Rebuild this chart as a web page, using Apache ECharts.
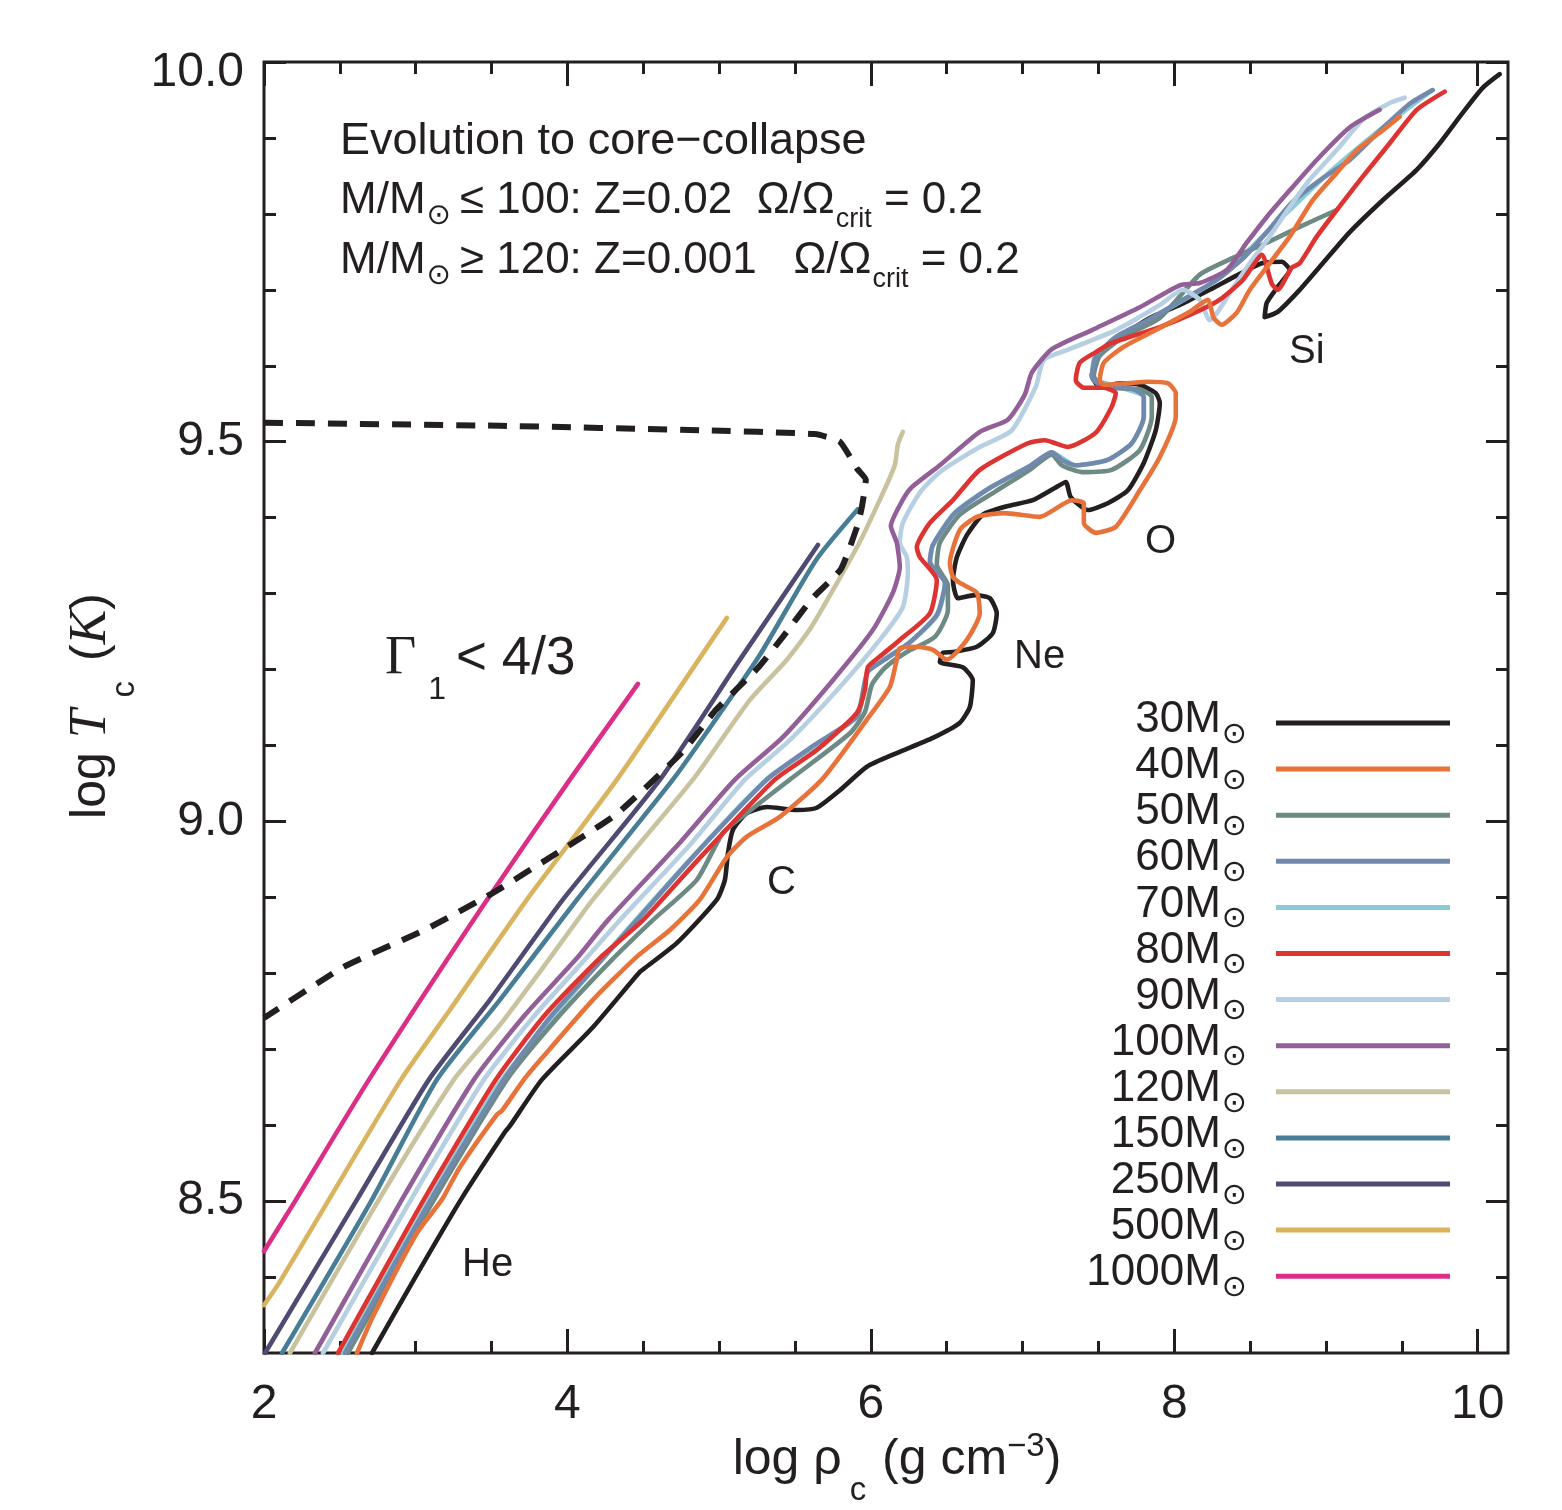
<!DOCTYPE html>
<html><head><meta charset="utf-8">
<script src="https://cdn.jsdelivr.net/npm/echarts@6/dist/echarts.min.js"></script>
<style>html,body{margin:0;padding:0;background:#fff}#c{width:1562px;height:1510px}</style>
</head><body><div id="c"></div>
<script>
// ---------- tick definitions ----------
const xMajorTicks = [2, 4, 6, 8, 10];
const xMinorTicks = [2.5, 3, 3.5, 4.5, 5, 5.5, 6.5, 7, 7.5, 8.5, 9, 9.5];
const yMajorTicks = [8.5, 9.0, 9.5, 10.0];
const yMinorTicks = [8.4, 8.6, 8.7, 8.8, 8.9, 9.1, 9.2, 9.3, 9.4, 9.6, 9.7, 9.8, 9.9];

// ---------- legend / series names ----------
const massNames = ['30M', '40M', '50M', '60M', '70M', '80M', '90M', '100M', '120M', '150M', '250M', '500M', '1000M'];

// ---------- tracks: [log rho_c, log T_c] ----------
const m30 = [[2.712,8.300],[2.995,8.399],[3.298,8.502],[3.588,8.591],[3.621,8.599],[3.832,8.660],[4.168,8.729],[4.478,8.802],[4.511,8.807],[4.722,8.840],[4.985,8.897],[5.038,8.923],[5.058,8.958],[5.091,8.989],[5.183,9.011],[5.315,9.019],[5.512,9.015],[5.644,9.018],[5.796,9.041],[5.974,9.072],[6.171,9.090],[6.409,9.110],[6.587,9.130],[6.653,9.151],[6.672,9.186],[6.606,9.203],[6.455,9.210],[6.475,9.222],[6.541,9.223],[6.699,9.230],[6.804,9.248],[6.830,9.274],[6.784,9.294],[6.685,9.298],[6.573,9.294],[6.541,9.318],[6.567,9.348],[6.633,9.377],[6.738,9.404],[6.896,9.415],[7.068,9.423],[7.213,9.439],[7.285,9.447],[7.318,9.427],[7.430,9.410],[7.562,9.419],[7.694,9.436],[7.799,9.472],[7.878,9.515],[7.905,9.551],[7.878,9.564],[7.773,9.575],[7.641,9.577],[7.509,9.572],[7.457,9.588],[7.509,9.614],[7.674,9.641],[7.839,9.663],[8.036,9.680],[8.234,9.700],[8.432,9.721],[8.577,9.735],[8.709,9.737],[8.761,9.726],[8.682,9.704],[8.610,9.683],[8.596,9.664],[8.682,9.671],[8.827,9.700],[8.979,9.735],[9.157,9.776],[9.374,9.818],[9.598,9.858],[9.750,9.893],[9.901,9.933],[10.033,9.966],[10.145,9.984]];
const m40 = [[2.613,8.300],[2.718,8.348],[3.008,8.458],[3.173,8.502],[3.292,8.545],[3.535,8.614],[3.568,8.619],[3.713,8.660],[3.839,8.690],[4.168,8.765],[4.458,8.822],[4.676,8.857],[4.873,8.897],[5.051,8.953],[5.183,8.980],[5.400,9.006],[5.677,9.055],[5.974,9.134],[6.125,9.177],[6.171,9.213],[6.191,9.228],[6.303,9.230],[6.409,9.226],[6.501,9.213],[6.633,9.239],[6.718,9.274],[6.699,9.301],[6.587,9.314],[6.541,9.322],[6.521,9.340],[6.587,9.384],[6.699,9.401],[6.877,9.406],[7.114,9.401],[7.325,9.423],[7.404,9.419],[7.404,9.393],[7.483,9.380],[7.615,9.388],[7.773,9.436],[7.905,9.480],[8.010,9.533],[8.010,9.564],[7.957,9.577],[7.825,9.579],[7.694,9.577],[7.536,9.575],[7.509,9.581],[7.536,9.604],[7.667,9.625],[7.878,9.647],[8.102,9.671],[8.221,9.687],[8.260,9.663],[8.313,9.654],[8.412,9.670],[8.498,9.700],[8.610,9.730],[8.761,9.770],[8.913,9.818],[9.071,9.854],[9.203,9.884],[9.374,9.910],[9.486,9.928]];
const m50 = [[2.554,8.300],[3.121,8.502],[3.601,8.660],[3.924,8.739],[4.280,8.815],[4.563,8.870],[4.853,8.923],[5.025,8.985],[5.183,9.011],[5.466,9.055],[5.862,9.116],[5.961,9.144],[6.007,9.180],[6.092,9.202],[6.237,9.223],[6.422,9.243],[6.508,9.278],[6.508,9.311],[6.435,9.338],[6.455,9.367],[6.587,9.404],[6.817,9.434],[7.048,9.463],[7.193,9.483],[7.259,9.469],[7.391,9.460],[7.588,9.463],[7.773,9.489],[7.852,9.533],[7.852,9.559],[7.773,9.569],[7.536,9.572],[7.470,9.587],[7.509,9.613],[7.674,9.639],[7.905,9.663],[8.168,9.720],[8.386,9.742],[8.610,9.762],[8.827,9.783],[9.071,9.805]];
const m60 = [[2.534,8.300],[3.101,8.502],[3.582,8.660],[3.898,8.745],[4.214,8.815],[4.458,8.870],[4.840,8.956],[5.315,9.055],[5.631,9.101],[5.908,9.138],[5.947,9.170],[5.980,9.197],[6.092,9.213],[6.257,9.236],[6.435,9.272],[6.488,9.314],[6.389,9.342],[6.409,9.364],[6.554,9.406],[6.784,9.439],[7.048,9.468],[7.193,9.486],[7.259,9.476],[7.351,9.469],[7.562,9.476],[7.720,9.498],[7.799,9.533],[7.799,9.559],[7.746,9.568],[7.641,9.572],[7.536,9.572],[7.457,9.585],[7.483,9.612],[7.615,9.638],[7.825,9.660],[8.056,9.687],[8.280,9.713],[8.452,9.741],[8.610,9.776],[8.781,9.816],[8.979,9.847],[9.157,9.871],[9.374,9.913],[9.552,9.945],[9.704,9.963]];
const m70 = [[2.52,8.300],[3.09,8.502],[3.57,8.660],[4.45,8.870],[5.31,9.055],[5.91,9.138],[5.98,9.197],[6.26,9.236],[6.44,9.272],[6.49,9.314],[6.39,9.342],[6.41,9.364],[6.55,9.406],[6.78,9.439],[7.05,9.468],[7.19,9.486],[7.35,9.469],[7.56,9.476],[7.72,9.498],[7.80,9.533],[7.80,9.559],[7.64,9.572],[7.46,9.585],[7.48,9.612],[7.83,9.660],[8.28,9.713],[8.61,9.776],[8.98,9.847],[9.37,9.913],[9.70,9.963]];
const m80 = [[2.488,8.300],[2.764,8.399],[3.054,8.502],[3.529,8.660],[3.852,8.745],[4.214,8.820],[4.498,8.870],[4.873,8.952],[5.367,9.055],[5.644,9.094],[5.908,9.143],[5.961,9.173],[5.980,9.203],[6.059,9.217],[6.191,9.239],[6.389,9.274],[6.435,9.318],[6.323,9.348],[6.303,9.361],[6.389,9.393],[6.541,9.423],[6.718,9.463],[7.035,9.498],[7.147,9.502],[7.298,9.493],[7.483,9.512],[7.588,9.546],[7.615,9.564],[7.536,9.571],[7.404,9.571],[7.351,9.581],[7.377,9.604],[7.483,9.618],[7.588,9.630],[7.905,9.651],[8.168,9.673],[8.300,9.687],[8.452,9.713],[8.577,9.746],[8.643,9.708],[8.682,9.700],[8.774,9.729],[8.827,9.735],[8.939,9.770],[9.071,9.805],[9.242,9.849],[9.420,9.893],[9.598,9.937],[9.783,9.961]];
const m90 = [[2.389,8.300],[2.969,8.502],[3.450,8.660],[3.786,8.745],[4.115,8.818],[4.346,8.870],[4.807,8.969],[5.170,9.055],[5.466,9.107],[5.796,9.177],[6.059,9.239],[6.211,9.282],[6.244,9.327],[6.237,9.348],[6.191,9.367],[6.211,9.393],[6.323,9.433],[6.455,9.460],[6.718,9.493],[6.929,9.515],[7.087,9.572],[7.140,9.608],[7.298,9.621],[7.615,9.647],[7.905,9.680],[8.056,9.700],[8.168,9.687],[8.234,9.660],[8.287,9.671],[8.399,9.706],[8.498,9.735],[8.629,9.770],[8.761,9.809],[8.893,9.845],[9.071,9.884],[9.242,9.924],[9.420,9.946],[9.519,9.953]];
const m100 = [[2.336,8.300],[2.909,8.502],[3.384,8.660],[3.720,8.745],[4.063,8.820],[4.267,8.870],[4.741,8.972],[5.104,9.055],[5.420,9.111],[5.750,9.186],[6.013,9.252],[6.145,9.301],[6.191,9.335],[6.171,9.367],[6.132,9.389],[6.198,9.419],[6.264,9.439],[6.455,9.469],[6.718,9.513],[6.903,9.529],[7.015,9.562],[7.061,9.591],[7.193,9.622],[7.457,9.647],[7.773,9.677],[8.036,9.706],[8.168,9.709],[8.346,9.726],[8.478,9.762],[8.610,9.796],[8.761,9.831],[8.939,9.871],[9.157,9.914],[9.354,9.937]];
const m120 = [[2.171,8.300],[2.758,8.502],[3.252,8.660],[3.555,8.732],[3.852,8.811],[4.168,8.897],[4.827,9.055],[5.203,9.160],[5.447,9.213],[5.611,9.257],[5.914,9.363],[6.072,9.429],[6.158,9.469],[6.178,9.496],[6.211,9.513]];
const m150 = [[2.119,8.300],[2.712,8.502],[3.140,8.660],[3.555,8.765],[4.063,8.897],[4.695,9.055],[4.952,9.127],[5.268,9.219],[5.638,9.344],[5.914,9.411]];
const m250 = [[2.007,8.300],[2.613,8.502],[3.087,8.660],[3.489,8.765],[3.970,8.897],[4.610,9.055],[5.137,9.213],[5.651,9.364]];
const m500 = [[2.0,8.363],[2.105,8.394],[2.428,8.502],[2.903,8.660],[3.226,8.752],[3.733,8.897],[4.326,9.055],[5.051,9.268]];
const m1000 = [[2.0,8.434],[2.211,8.502],[2.692,8.660],[3.437,8.887],[4.016,9.055],[4.465,9.181]];
// Gamma_1 < 4/3 instability boundary (dashed)
const gammaBoundary = [[2.0,9.525],[3.555,9.521],[4.873,9.515],[5.631,9.510],[5.796,9.500],[5.911,9.464],[5.967,9.450],[5.941,9.414],[5.911,9.389],[5.802,9.332],[5.611,9.293],[5.420,9.243],[5.255,9.202],[4.979,9.147],[4.761,9.092],[4.326,9.010],[3.944,8.960],[3.502,8.905],[3.068,8.858],[2.521,8.808],[2.0,8.741]];

const INK = '#231F20';
const FONT = '"Liberation Sans", Arial, Helvetica, sans-serif';
const SYMF = '"DejaVu Sans", "Liberation Sans", sans-serif';
const SERIF = '"Liberation Serif", "Times New Roman", serif';

const colors = {
  '30M':'#231F20','40M':'#E8733A','50M':'#6D8A84','60M':'#7089AC','70M':'#8ACBD5','80M':'#DE3431',
  '90M':'#B7CFE3','100M':'#925F98','120M':'#C9C29E','150M':'#487E95','250M':'#4E4A71','500M':'#DAB35F','1000M':'#DD2E87'
};
const trackData = {'30M':m30,'40M':m40,'50M':m50,'60M':m60,'70M':m70,'80M':m80,'90M':m90,'100M':m100,'120M':m120,'150M':m150,'250M':m250,'500M':m500,'1000M':m1000};
const drawOrder = ['30M','70M','50M','60M','90M','100M','80M','40M','120M','150M','250M','500M','1000M'];

const series = drawOrder.map(n => ({
  type:'line', name:n, data:trackData[n], showSymbol:false, symbol:'none', silent:true, smooth:0.2,
  lineStyle:{color:colors[n], width:4.6, cap:'round', join:'round'}, itemStyle:{color:colors[n]}
}));
series.push({type:'line', name:'gamma', data:gammaBoundary, showSymbol:false, symbol:'none', silent:true, smooth:0.15,
  lineStyle:{color:INK, width:6, type:[19,13]}});

function axisCommon(extra){
  return Object.assign({type:'value', axisLine:{show:false}, splitLine:{show:false}}, extra);
}
const tickStyle = {color:INK, width:3};

const option = {
  animation:false,
  backgroundColor:'#fff',
  grid:{left:264, top:62, right:54, bottom:157, show:true, borderColor:INK, borderWidth:3, backgroundColor:'transparent'},
  xAxis:[
    axisCommon({min:2, max:10.2, position:'bottom',
      axisTick:{show:true, inside:true, length:24, customValues:xMajorTicks, lineStyle:tickStyle},
      axisLabel:{customValues:xMajorTicks, margin:28, fontSize:48, fontFamily:FONT, color:INK}}),
    axisCommon({min:2, max:10.2, position:'bottom',
      axisTick:{show:true, inside:true, length:12, customValues:xMinorTicks, lineStyle:tickStyle},
      axisLabel:{show:false}}),
    axisCommon({min:2, max:10.2, position:'top',
      axisTick:{show:true, inside:true, length:24, customValues:xMajorTicks, lineStyle:tickStyle},
      axisLabel:{show:false}}),
    axisCommon({min:2, max:10.2, position:'top',
      axisTick:{show:true, inside:true, length:12, customValues:xMinorTicks, lineStyle:tickStyle},
      axisLabel:{show:false}})
  ],
  yAxis:[
    axisCommon({min:8.3, max:10.0, position:'left',
      axisTick:{show:true, inside:true, length:22, customValues:yMajorTicks, lineStyle:tickStyle},
      axisLabel:{customValues:yMajorTicks, margin:20, fontSize:48, fontFamily:FONT, color:INK,
        formatter: v => Math.abs(v-10) < 1e-6 ? '{top|10.0}' : v.toFixed(1),
        rich:{top:{fontSize:48, fontFamily:FONT, color:INK, padding:[22,0,0,0]}}}}),
    axisCommon({min:8.3, max:10.0, position:'left',
      axisTick:{show:true, inside:true, length:12, customValues:yMinorTicks, lineStyle:tickStyle},
      axisLabel:{show:false}}),
    axisCommon({min:8.3, max:10.0, position:'right',
      axisTick:{show:true, inside:true, length:22, customValues:yMajorTicks, lineStyle:tickStyle},
      axisLabel:{show:false}}),
    axisCommon({min:8.3, max:10.0, position:'right',
      axisTick:{show:true, inside:true, length:12, customValues:yMinorTicks, lineStyle:tickStyle},
      axisLabel:{show:false}})
  ],
  legend:{
    data:massNames, orient:'vertical', right:112, top:698, align:'right', padding:0,
    icon:'rect', itemWidth:174, itemHeight:5, itemGap:-5.9, selectedMode:false,
    formatter: n => '{m|' + n + '}{s|⊙}',
    textStyle:{color:INK, fontSize:44, fontFamily:FONT,
      rich:{
        m:{fontSize:44, fontFamily:FONT, color:INK, verticalAlign:'middle', padding:[0,0,6,0]},
        s:{fontSize:30, fontFamily:SYMF, color:INK, verticalAlign:'middle', padding:[24,24,0,1]}
      }}
  },
  series: series,
  graphic:[]
};

function txt(x, y, text, size, extra){
  return Object.assign({type:'text', x:x, y:y, silent:true, z:100,
    style:{text:text, fontSize:size, fontFamily:FONT, fill:INK, align:'left', verticalAlign:'middle'}}, extra||{});
}
const annRich = {
  t:{fontSize:44, fontFamily:FONT, fill:INK, lineHeight:50, verticalAlign:'middle'},
  sun:{fontSize:29, fontFamily:SYMF, fill:INK, lineHeight:50, verticalAlign:'middle', padding:[30,9,0,1]},
  sub:{fontSize:27, fontFamily:FONT, fill:INK, lineHeight:50, verticalAlign:'middle', padding:[38,0,0,1]}
};
option.graphic = [
  txt(340, 142, 'Evolution to core\u2212collapse', 45),
  {type:'text', x:340, y:201, silent:true, z:100, style:{text:'{t|M/M}{sun|⊙}{t|≤ 100: Z=0.02  Ω/Ω}{sub|crit}{t| = 0.2}', rich:annRich, align:'left', verticalAlign:'middle', fill:INK}},
  {type:'text', x:340, y:261, silent:true, z:100, style:{text:'{t|M/M}{sun|⊙}{t|≥ 120: Z=0.001   Ω/Ω}{sub|crit}{t| = 0.2}', rich:annRich, align:'left', verticalAlign:'middle', fill:INK}},
  {type:'text', x:385, y:659, silent:true, z:100, style:{text:'{g|Γ}{s|1}{t|< 4/3}', align:'left', verticalAlign:'middle', fill:INK,
    rich:{g:{fontSize:54, fontFamily:SERIF, fill:INK, lineHeight:56, verticalAlign:'middle'},
          s:{fontSize:32, fontFamily:FONT, fill:INK, lineHeight:56, verticalAlign:'middle', padding:[62,10,0,12]},
          t:{fontSize:53, fontFamily:FONT, fill:INK, lineHeight:56, verticalAlign:'middle'}}}},
  txt(462, 1265, 'He', 40),
  txt(767, 883, 'C', 40),
  txt(1014, 657, 'Ne', 40),
  txt(1145, 542, 'O', 40),
  txt(1289, 352, 'Si', 40),
  // x-axis title
  {type:'text', x:897, y:1460, silent:true, z:100, style:{text:'{a|log ρ}{b|c}{a| (g cm}{p|\u22123}{a|)}', align:'center', verticalAlign:'middle', fill:INK,
    rich:{a:{fontSize:50, fontFamily:FONT, fill:INK, lineHeight:56, verticalAlign:'middle'},
          b:{fontSize:33, fontFamily:FONT, fill:INK, lineHeight:56, verticalAlign:'middle', padding:[62,2,0,8]},
          p:{fontSize:33, fontFamily:FONT, fill:INK, lineHeight:56, verticalAlign:'middle', padding:[0,0,26,0]}}}},
  // y-axis title
  {type:'text', x:91, y:706, rotation:Math.PI/2, silent:true, z:100, style:{text:'{a|log }{i|T}{b|c}{a| (}{i|K}{a|)}', align:'center', verticalAlign:'middle', fill:INK,
    rich:{a:{fontSize:50, fontFamily:FONT, fill:INK, lineHeight:56, verticalAlign:'middle'},
          i:{fontSize:52, fontFamily:SERIF, fontStyle:'italic', fill:INK, lineHeight:56, verticalAlign:'middle'},
          b:{fontSize:33, fontFamily:FONT, fill:INK, lineHeight:56, verticalAlign:'middle', padding:[68,6,0,12]}}}}
];

const chart = echarts.init(document.getElementById('c'), null, {renderer:'canvas'});
chart.setOption(option);
</script></body></html>
